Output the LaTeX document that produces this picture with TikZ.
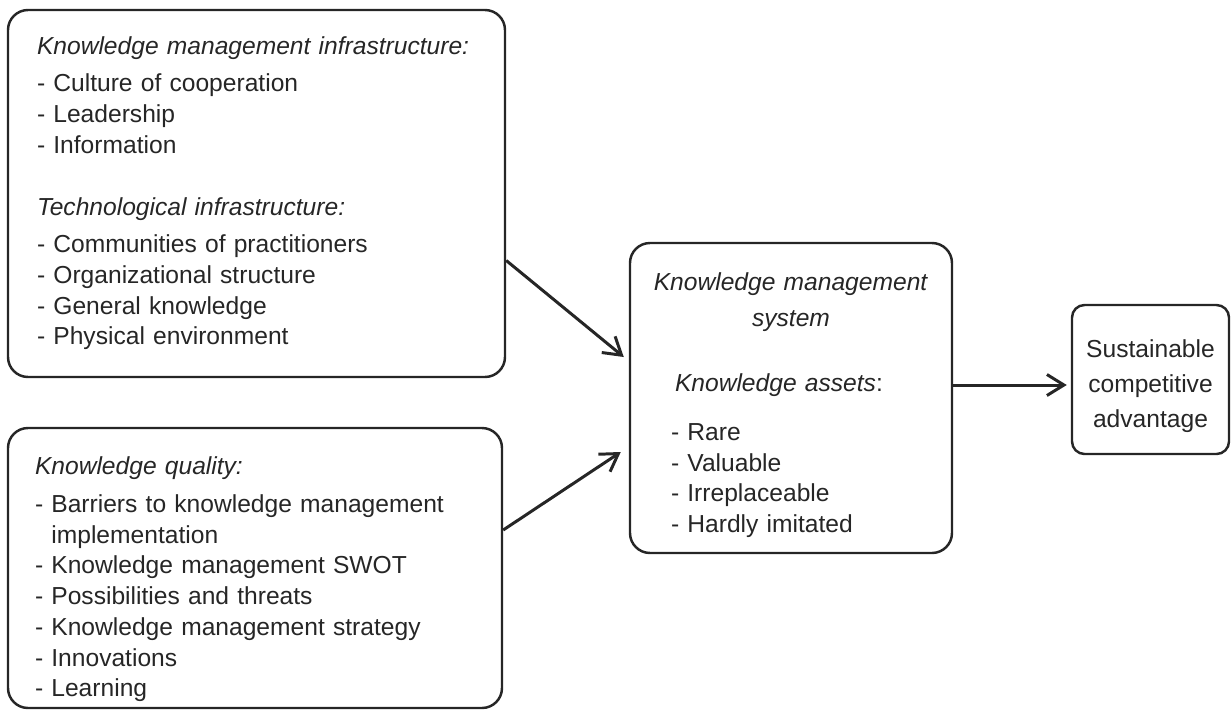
\documentclass[tikz,border=0pt]{standalone}
\usepackage{fontspec}
\setmainfont{Liberation Sans}
\usetikzlibrary{positioning,calc,arrows.meta}
\definecolor{ink}{HTML}{262626}

\begin{document}
\begin{tikzpicture}[
% Node styles
 box/.style={draw=ink, line width=1.4pt, rounded corners=0.4cm, text=ink,
 font=\fontsize{14}{17.5}\selectfont, align=left},
 goal/.style={rounded corners=0.25cm, align=center, inner sep=0pt,
 font=\fontsize{14}{20}\selectfont},
% Edge styles
 link/.style={draw=ink, line width=1.7pt,
 -{Straight Barb[length=0.34cm, width=0.42cm]}}
]
\useasboundingbox (0,0) rectangle (24.64,-14.22);

\node[box, text width=8.78cm, inner xsep=0.58cm, minimum height=7.34cm] (infra) at (5.13,-3.87)
 {\textit{Knowledge management infrastructure:}\\[3.5pt]
 - Culture of cooperation\\
 - Leadership\\
 - Information\\[18pt]
 \textit{Technological infrastructure:}\\[3.5pt]
 - Communities of practitioners\\
 - Organizational structure\\
 - General knowledge\\
 - Physical environment};

\node[box, text width=8.8cm, inner xsep=0.54cm, inner ysep=0.05cm, minimum height=5.6cm] (quality) at (5.1,-11.36)
 {\rule{0pt}{23pt}\textit{Knowledge quality:}\\[4.2pt]
 - Barriers to knowledge management\\
 \phantom{- }implementation\\
 - Knowledge management SWOT\\
 - Possibilities and threats\\
 - Knowledge management strategy\\
 - Innovations\\
 - Learning};

\node[box, text width=6.04cm, inner xsep=0.2cm, minimum height=6.2cm] (kms) at (15.82,-7.96)
 {{\centering\rule{0pt}{18pt}\textit{Knowledge management}\par\vspace{3pt}\textit{system}\par}
 \vspace{20pt}
 \leftskip=0.62cm
 \hspace*{0.08cm}\textit{Knowledge assets}:\par\vspace{10pt}
 - Rare\\
 - Valuable\\
 - Irreplaceable\\
 - Hardly imitated\par};

\node[box, goal, minimum width=3.14cm, minimum height=2.98cm] (sca) at (23.01,-7.59)
 {\rule{0pt}{18pt}Sustainable\\ competitive\\ advantage};

\draw[link] ([yshift=-1.34cm]infra.east) -- ([xshift=-0.1cm, yshift=0.82cm]kms.west);
\draw[link] ([yshift=0.76cm]quality.east) -- ([xshift=-0.16cm, yshift=-1.08cm]kms.west);
\draw[link] ($(kms.east |- sca.west)+(0,-0.11)$) -- ([xshift=-0.08cm, yshift=-0.11cm]sca.west);

\end{tikzpicture}
\end{document}
